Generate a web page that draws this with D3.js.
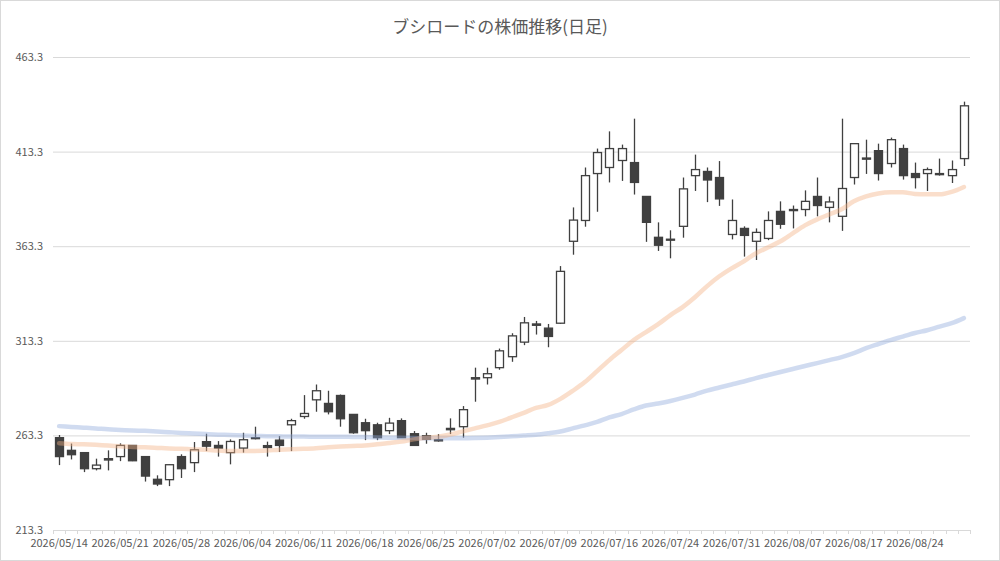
<!DOCTYPE html>
<html>
    <head>
        <meta charset="utf-8">
        <title>ブシロードの株価推移(日足)</title>
        <script src="https://d3js.org/d3.v7.min.js"></script>
        <style>
            body { margin: 0; background: #fff; }
            text { font-family: "Noto Sans CJK JP", "Noto Sans", sans-serif; }
        </style>
    </head>
    <body>
        <script>
            const DATES = [
                "2026/05/14", "2026/05/15", "2026/05/18", "2026/05/19", "2026/05/20", "2026/05/21", "2026/05/22",
                "2026/05/25", "2026/05/26", "2026/05/27", "2026/05/28", "2026/05/29",
                "2026/06/01", "2026/06/02", "2026/06/03", "2026/06/04", "2026/06/05",
                "2026/06/08", "2026/06/09", "2026/06/10", "2026/06/11", "2026/06/12",
                "2026/06/15", "2026/06/16", "2026/06/17", "2026/06/18", "2026/06/19",
                "2026/06/22", "2026/06/23", "2026/06/24", "2026/06/25", "2026/06/26",
                "2026/06/29", "2026/06/30", "2026/07/01", "2026/07/02", "2026/07/03",
                "2026/07/06", "2026/07/07", "2026/07/08", "2026/07/09", "2026/07/10",
                "2026/07/13", "2026/07/14", "2026/07/15", "2026/07/16", "2026/07/17",
                "2026/07/21", "2026/07/22", "2026/07/23", "2026/07/24",
                "2026/07/27", "2026/07/28", "2026/07/29", "2026/07/30", "2026/07/31",
                "2026/08/03", "2026/08/04", "2026/08/05", "2026/08/06", "2026/08/07",
                "2026/08/10", "2026/08/12", "2026/08/13", "2026/08/14",
                "2026/08/17", "2026/08/18", "2026/08/19", "2026/08/20", "2026/08/21",
                "2026/08/24", "2026/08/25", "2026/08/26", "2026/08/27", "2026/08/28"
            ];

            const OPEN = [
                262.1, 255.4, 254.2, 245.7, 250.3, 252.1, 258.0, 252.1, 240.1, 239.9,
                252.1, 248.9, 260.0, 258.0, 254.2, 256.6, 262.1, 257.9, 260.8, 268.9,
                273.3, 282.1, 280.2, 284.4, 274.4, 270.0, 268.9, 265.8, 271.1, 264.2,
                263.1, 261.0, 266.3, 267.9, 293.1, 293.8, 299.1, 304.9, 312.6, 322.2,
                320.0, 322.6, 365.9, 376.9, 401.7, 404.9, 408.6, 407.5, 389.6, 368.0,
                367.0, 373.8, 400.6, 402.8, 399.6, 369.5, 372.7, 365.9, 367.4, 381.7,
                382.7, 382.7, 389.6, 383.8, 379.1, 399.6, 409.9, 413.8, 407.0, 414.9,
                401.7, 401.7, 401.7, 400.6, 409.6
            ];
            const HIGH = [
                263.5, 259.0, 254.5, 251.0, 255.4, 259.1, 258.2, 252.3, 242.2, 248.0,
                253.3, 259.8, 264.2, 260.3, 261.2, 264.7, 267.9, 260.0, 262.9, 272.1,
                284.6, 290.2, 286.9, 284.9, 274.6, 272.1, 270.0, 272.6, 272.3, 265.6,
                264.7, 264.0, 272.3, 278.8, 299.1, 299.1, 309.2, 317.3, 325.9, 323.8,
                322.2, 352.8, 383.8, 404.9, 414.9, 424.0, 417.0, 430.7, 389.8, 375.9,
                371.7, 399.6, 411.7, 404.9, 408.3, 388.0, 373.8, 372.7, 381.7, 387.0,
                384.8, 392.8, 399.6, 389.6, 430.7, 417.5, 419.6, 417.5, 420.7, 417.0,
                407.5, 404.9, 409.6, 408.6, 439.7
            ];
            const LOW = [
                247.6, 250.6, 243.9, 244.8, 244.8, 249.7, 249.7, 238.9, 236.5, 236.5,
                240.8, 243.9, 255.0, 252.1, 248.0, 254.2, 261.2, 252.1, 254.5, 255.0,
                272.1, 275.8, 274.4, 267.9, 264.2, 260.8, 260.8, 264.0, 262.0, 257.8,
                258.9, 260.0, 264.0, 262.1, 281.1, 290.2, 298.0, 302.2, 311.0, 316.6,
                309.9, 322.2, 358.8, 373.6, 381.5, 397.0, 397.8, 390.6, 365.6, 360.8,
                356.9, 367.8, 392.5, 386.6, 384.6, 366.9, 357.8, 356.0, 366.5, 372.5,
                372.7, 379.1, 379.1, 375.9, 371.4, 395.9, 401.5, 398.0, 404.9, 398.5,
                393.8, 392.5, 400.6, 396.7, 405.7
            ];
            const CLOSE = [
                252.1, 253.1, 245.7, 247.6, 251.0, 258.0, 249.9, 241.8, 237.6, 247.8,
                245.7, 255.7, 257.6, 256.6, 260.1, 261.0, 261.6, 256.9, 258.0, 271.1,
                274.9, 286.9, 275.8, 272.1, 264.7, 265.8, 262.1, 269.8, 262.1, 258.0,
                261.2, 260.4, 267.0, 276.9, 293.8, 295.9, 308.0, 315.9, 322.8, 321.5,
                315.6, 350.0, 377.1, 400.6, 412.8, 414.9, 414.9, 397.0, 375.9, 363.8,
                366.5, 393.6, 403.8, 398.3, 388.3, 376.9, 369.0, 370.6, 376.9, 374.9,
                382.1, 387.0, 384.8, 386.7, 393.8, 417.5, 409.3, 401.7, 419.6, 400.6,
                399.6, 403.8, 401.1, 403.8, 437.5
            ];

            // 短期移動平均 (オレンジ)
            const MA_SHORT = [
                259.2, 258.8, 258.6, 258.3, 257.9, 257.6, 257.2, 257.0, 256.7, 256.4,
                256.2, 255.9, 255.7, 255.3, 255.0, 255.1, 255.1, 255.3, 255.7, 256.0,
                256.2, 256.5, 257.0, 257.4, 257.7, 257.9, 258.6, 259.3, 260.1, 261.2,
                262.0, 262.6, 263.8, 265.4, 267.0, 268.6, 270.4, 272.8, 275.2, 277.8,
                279.4, 282.6, 286.8, 291.5, 297.3, 303.1, 308.4, 313.7, 317.9, 322.1,
                326.9, 331.1, 336.3, 342.2, 347.4, 351.6, 355.3, 359.6, 362.7, 365.9,
                370.1, 374.3, 377.5, 380.1, 382.8, 387.0, 389.6, 391.2, 391.8, 391.8,
                390.9, 390.7, 390.7, 392.0, 394.6
            ];
            // 長期移動平均 (ブルー)
            const MA_LONG = [
                268.2, 267.8, 267.4, 267.0, 266.5, 266.2, 265.9, 265.7, 265.4, 265.0,
                264.6, 264.3, 264.0, 263.7, 263.5, 263.2, 263.0, 262.9, 262.8, 262.7,
                262.7, 262.6, 262.6, 262.6, 262.5, 262.4, 262.2, 262.1, 262.0, 261.9,
                261.8, 261.8, 261.8, 261.8, 261.9, 262.1, 262.4, 262.8, 263.2, 263.6,
                264.4, 265.4, 267.0, 268.6, 270.4, 272.8, 274.6, 277.0, 279.1, 280.2,
                281.5, 283.1, 284.9, 287.0, 288.6, 290.2, 291.8, 293.6, 295.2, 296.8,
                298.4, 300.0, 301.5, 303.1, 304.7, 306.8, 309.4, 311.6, 313.7, 315.5,
                317.4, 318.9, 320.8, 322.6, 325.3
            ];

            const Y_TICKS = [213.3, 263.3, 313.3, 363.3, 413.3, 463.3];
            const X_LABELS = DATES.filter((d, i) => i % 5 === 0);

            const width = 1000;
            const height = 561;
            const plotLeft = 53, plotRight = 970, plotTop = 57, plotBottom = 530;

            const svg = d3.select("body")
                .append("svg")
                .attr("width", width)
                .attr("height", height);

            svg.append("rect")
                .attr("x", 0.5)
                .attr("y", 0.5)
                .attr("width", width - 1)
                .attr("height", height - 1)
                .attr("fill", "#fff")
                .attr("stroke", "#d9d9d9");

            const x = d3.scaleBand()
                .domain(DATES)
                .range([plotLeft, plotRight]);

            const y = d3.scaleLinear()
                .domain([213.3, 463.3])
                .range([plotBottom, plotTop]);

            // grid + y labels
            const yAxis = svg.append("g")
                .attr("transform", `translate(${plotLeft},0)`)
                .call(d3.axisLeft(y)
                    .tickValues(Y_TICKS)
                    .tickSize(-(plotRight - plotLeft))
                    .tickPadding(10)
                    .tickFormat(d3.format(".1f")));
            yAxis.select(".domain").remove();
            yAxis.selectAll(".tick line").attr("stroke", "#d9d9d9");
            yAxis.selectAll(".tick text")
                .attr("fill", "#595959")
                .style("font-size", "11px");

            // x axis
            const xAxis = svg.append("g")
                .attr("transform", `translate(0,${plotBottom})`)
                .call(d3.axisBottom(x)
                    .tickValues(X_LABELS)
                    .tickSize(0)
                    .tickPadding(9));
            xAxis.select(".domain").attr("stroke", "#d9d9d9");
            xAxis.selectAll(".tick text")
                .attr("fill", "#595959")
                .style("font-size", "11px");

            // category tick marks
            svg.append("g")
                .selectAll("line")
                .data(DATES.concat(["end"]))
                .enter()
                .append("line")
                .attr("x1", (d, i) => Math.round(plotLeft + i * x.step()) + 0.5)
                .attr("x2", (d, i) => Math.round(plotLeft + i * x.step()) + 0.5)
                .attr("y1", plotBottom)
                .attr("y2", plotBottom + 4)
                .attr("stroke", "#d9d9d9");

            const candles = DATES.map((d, i) => ({
                date: d, open: OPEN[i], high: HIGH[i], low: LOW[i], close: CLOSE[i]
            }));

            const cx = d => x(d.date) + x.bandwidth() / 2;
            const bodyW = 8;

            const g = svg.append("g");

            g.selectAll("line.wick")
                .data(candles)
                .enter()
                .append("line")
                .attr("class", "wick")
                .attr("x1", d => Math.round(cx(d)) + 0.5)
                .attr("x2", d => Math.round(cx(d)) + 0.5)
                .attr("y1", d => y(d.high))
                .attr("y2", d => y(d.low))
                .attr("stroke", "#404040")
                .attr("stroke-width", 1.3);

            g.selectAll("rect.body")
                .data(candles)
                .enter()
                .append("rect")
                .attr("class", "body")
                .attr("x", d => Math.round(cx(d) - bodyW / 2) + 0.5)
                .attr("y", d => y(Math.max(d.open, d.close)))
                .attr("width", bodyW)
                .attr("height", d => Math.max(1, Math.abs(y(d.open) - y(d.close))))
                .attr("fill", d => d.close >= d.open ? "#ffffff" : "#404040")
                .attr("stroke", "#404040")
                .attr("stroke-width", 1.3);

            // moving averages
            const line = d3.line()
                .x((d, i) => x(DATES[i]) + x.bandwidth() / 2)
                .y(d => y(d))
                .curve(d3.curveMonotoneX);

            svg.append("path")
                .datum(MA_LONG)
                .attr("d", line)
                .attr("fill", "none")
                .attr("stroke", "#8faadc")
                .attr("stroke-opacity", 0.42)
                .attr("stroke-width", 4.5)
                .attr("stroke-linecap", "round");

            svg.append("path")
                .datum(MA_SHORT)
                .attr("d", line)
                .attr("fill", "none")
                .attr("stroke", "#f4b183")
                .attr("stroke-opacity", 0.42)
                .attr("stroke-width", 4.5)
                .attr("stroke-linecap", "round");

            svg.append("text")
                .attr("x", width / 2)
                .attr("y", 33)
                .attr("text-anchor", "middle")
                .attr("fill", "#595959")
                .style("font-size", "17px")
                .text("ブシロードの株価推移(日足)");
        </script>
    </body>
</html>
